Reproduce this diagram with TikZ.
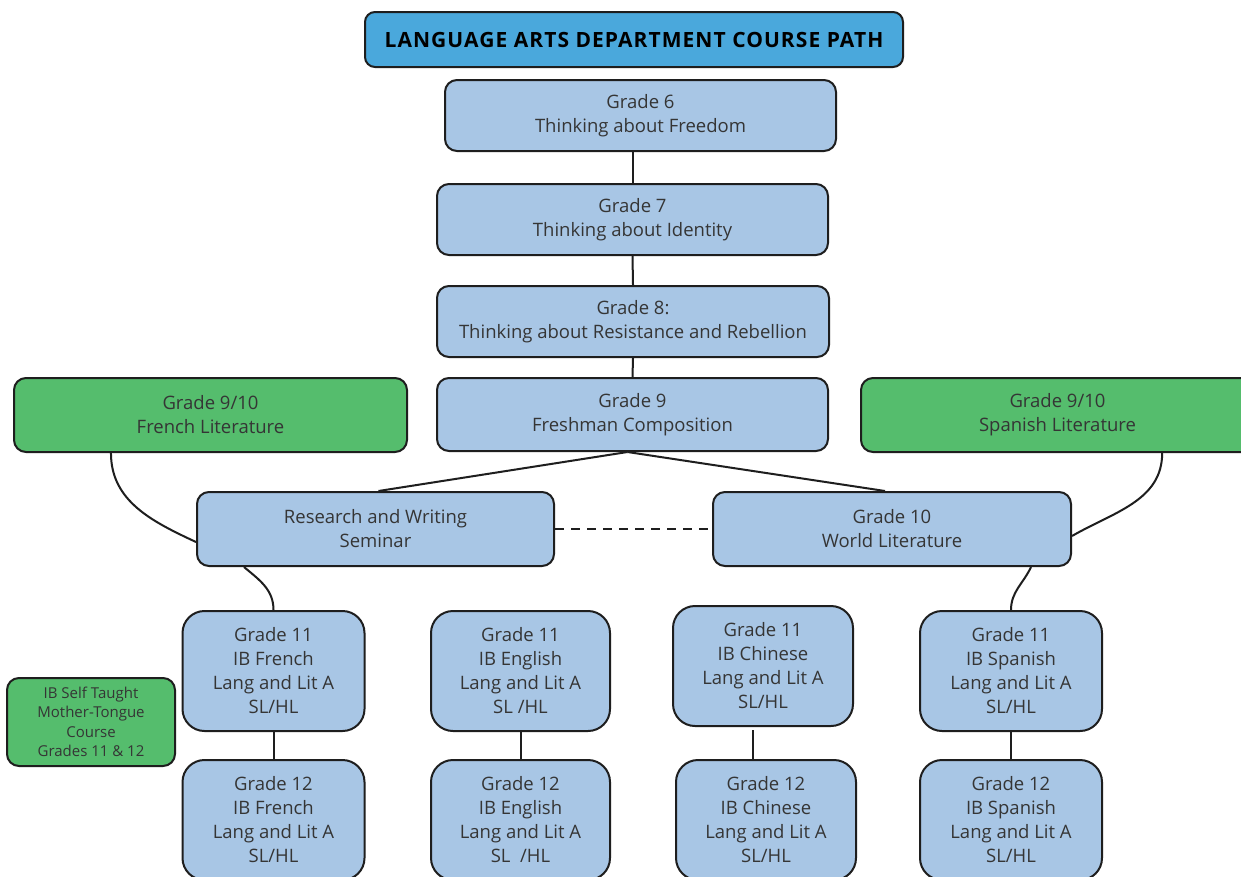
\documentclass[tikz,border=0pt]{standalone}
\usepackage{fontspec}
\setmainfont{Open Sans}
\usetikzlibrary{calc}
\definecolor{boxblue}{HTML}{A8C6E5}
\definecolor{titleblue}{HTML}{4AA8DC}
\definecolor{boxgreen}{HTML}{55BD6D}
\definecolor{txt}{HTML}{353535}
\definecolor{edge}{HTML}{1E1E1E}
\tikzset{
  base/.style={draw=edge, line width=2pt, align=center, text=txt, inner sep=0pt},
  midbox/.style={base, fill=boxblue, rounded corners=12pt, font=\fontsize{18.5}{24}\selectfont},
  greenbox/.style={base, fill=boxgreen, rounded corners=12pt, font=\fontsize{18.5}{24}\selectfont},
  ibbox/.style={base, fill=boxblue, rounded corners=22pt, minimum width=182pt, minimum height=120pt, font=\fontsize{18.5}{24}\selectfont},
  titlebox/.style={base, fill=titleblue, rounded corners=10pt, text=black, font=\fontsize{21}{22}\selectfont\bfseries\addfontfeature{LetterSpace=5}},
  link/.style={draw=edge, line width=2pt},
}
\begin{document}
\begin{tikzpicture}[x=1pt,y=1pt]
\useasboundingbox (0,0) rectangle (1241,-876);
\clip (0,0) rectangle (1241,-876);
\fill[white] (0,0) rectangle (1241,-876);

\node[titlebox, minimum width=538pt, minimum height=55pt] (title) at (634,-39.5) {LANGUAGE ARTS DEPARTMENT COURSE PATH};

\node[midbox, minimum width=391pt, minimum height=71pt] (g6) at (640.5,-115.5) {Grade 6\\Thinking about Freedom};
\node[midbox, minimum width=391pt, minimum height=71pt] (g7) at (632.5,-219.5) {Grade 7\\Thinking about Identity};
\node[midbox, minimum width=392pt, minimum height=71pt] (g8) at (633,-321.5) {Grade 8:\\Thinking about Resistance and Rebellion};
\node[midbox, minimum width=391pt, minimum height=73pt] (g9) at (632.5,-414.5) {Grade 9\\Freshman Composition};

\node[greenbox, minimum width=393pt, minimum height=74pt] (fr) at (210.5,-415) {Grade 9/10\\French Literature};
\node[greenbox, minimum width=393pt, minimum height=74pt] (sp) at (1057.5,-415) {Grade 9/10\\Spanish Literature};

\node[midbox, minimum width=357pt, minimum height=74pt] (rw) at (375.5,-529) {Research and Writing\\Seminar};
\node[midbox, minimum width=358pt, minimum height=74pt] (g10) at (892,-529) {Grade 10\\World Literature};

\node[ibbox] (fr11) at (273.5,-671) {Grade 11\\IB French\\Lang and Lit A\\SL/HL};
\node[ibbox] (fr12) at (273.5,-820) {Grade 12\\IB French\\Lang and Lit A\\SL/HL};
\node[ibbox, minimum width=179pt] (en11) at (520.5,-671) {Grade 11\\IB English\\Lang and Lit A\\SL /HL};
\node[ibbox, minimum width=179pt] (en12) at (520.5,-820) {Grade 12\\IB English\\Lang and Lit A\\SL\ \ /HL};
\node[ibbox, minimum width=180pt] (ch11) at (763,-666) {Grade 11\\IB Chinese\\Lang and Lit A\\SL/HL};
\node[ibbox, minimum width=180pt] (ch12) at (766,-820) {Grade 12\\IB Chinese\\Lang and Lit A\\SL/HL};
\node[ibbox] (sp11) at (1011,-671) {Grade 11\\IB Spanish\\Lang and Lit A\\SL/HL};
\node[ibbox] (sp12) at (1011,-820) {Grade 12\\IB Spanish\\Lang and Lit A\\SL/HL};

\node[greenbox, rounded corners=12pt, minimum width=168pt, minimum height=88pt, font=\fontsize{15}{19.5}\selectfont] (self) at (91,-722) {IB Self Taught\\Mother-Tongue\\Course\\Grades 11 \& 12};

% vertical chain
\draw[link] (g7.north |- g6.south) -- (g7.north);
\draw[link] (g7.south) -- (g8.north);
\draw[link] (g8.south) -- (g9.north);

% grade 9 fan
\coordinate (g9b) at ($(g9.south)+(-5,0)$);
\draw[link] (g9b) -- ($(rw.north)+(3,0)$);
\draw[link] (g9b) -- ($(g10.north)+(-7,0)$);

% dashed
\draw[link, dashed, dash pattern=on 9pt off 7pt] (rw.east) -- (g10.west);

% curves from literature boxes
\coordinate (frb) at ($(fr.south west)!0.248!(fr.south east)$);
\coordinate (rwl) at ($(rw.west)+(0,-13)$);
\draw[link] (frb) to[out=-90, in=155] (rwl);
\coordinate (spb) at ($(sp.south west)!0.765!(sp.south east)$);
\coordinate (g10r) at ($(g10.east)+(0,-7)$);
\draw[link] (spb) to[out=-90, in=30] (g10r);

% to grade 11
\coordinate (rwb) at ($(rw.south west)+(48,0)$);
\draw[link] (rwb) to[out=-40, in=90] (fr11.north);
\coordinate (g10b) at ($(g10.south east)+(-41,0)$);
\draw[link] (g10b) to[out=-115, in=90] (sp11.north);

% 11 to 12
\draw[link] (fr11.south) -- (fr12.north);
\draw[link] (en11.south) -- (en12.north);
\coordinate (chs) at ($(ch11.south)+(-10,-3)$);
\draw[link] (chs) -- (chs |- ch12.north);
\draw[link] (sp11.south) -- (sp12.north);
\end{tikzpicture}
\end{document}
